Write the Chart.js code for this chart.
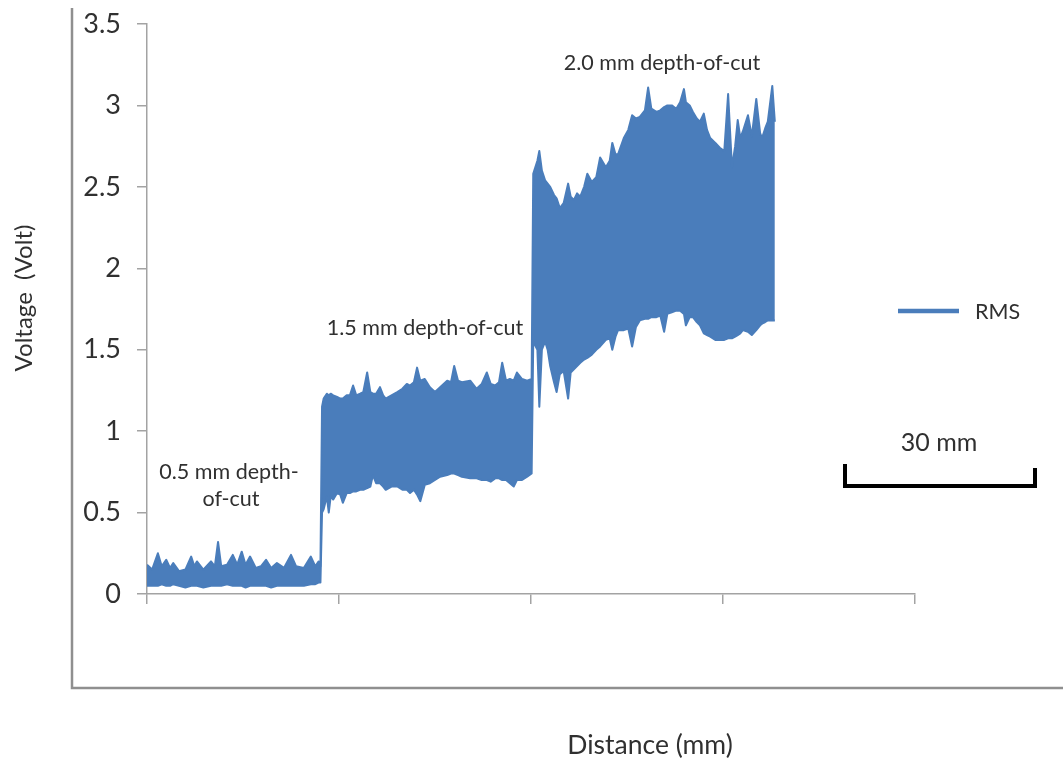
<!DOCTYPE html>
<html>
<head>
<meta charset="utf-8">
<script src="https://cdn.jsdelivr.net/npm/chart.js@4.4.1/dist/chart.umd.min.js"></script>
<style>
  html, body { margin: 0; padding: 0; background: #fff; }
  #wrap { position: relative; width: 1063px; height: 767px; }
</style>
</head>
<body>
<div id="wrap"><canvas id="rmsChart"></canvas></div>
<script>
// Axis ticks
const xTicks = [0, 30, 60, 90, 120];
const yTicks = [0, 0.5, 1, 1.5, 2, 2.5, 3, 3.5];

// RMS envelope along the cut: distance (mm), top and bottom of the signal band (V)
const distanceMm = [
  0, 0.8, 1.7, 2.3, 3.0, 3.6, 4.1, 5.0, 6.0, 6.9, 7.4, 7.8, 8.8, 10.0, 10.6, 11.1, 11.6, 12.5,
  13.4, 14.1, 14.8, 15.4, 16.1, 17.0, 17.8, 18.6, 19.4, 20.3, 21.4, 22.5, 23.3, 24.5, 25.6, 26.3,
  26.8, 27.1,
  27.35, 27.6, 28.1, 28.4, 28.7, 29.1, 29.7, 30.2, 30.6, 31.2, 31.7, 32.2, 32.7, 33.3, 33.8, 34.4,
  34.9, 35.3, 35.8, 36.4, 36.9, 37.3, 38.2, 39.1, 39.9, 40.6, 41.1, 41.7, 42.2, 42.7, 43.4, 44.2,
  45.0, 45.8, 46.9, 47.5, 48.0, 48.6, 49.2, 50.5, 51.5, 52.3, 53.1, 53.7, 54.4, 55.0, 55.5, 56.1,
  56.7, 57.3, 57.8, 58.6, 59.4, 60.1,
  60.35, 61.0, 61.3, 61.7, 62.2, 62.6, 63.0, 63.6, 64.0, 64.5, 65.1, 65.8, 66.2, 66.7, 67.2, 67.7,
  68.3, 68.8, 69.5, 70.2, 70.8, 71.7, 72.3, 72.7, 73.2, 73.6, 74.5, 75.2, 75.8, 76.4, 77.0, 77.8,
  78.3, 78.8, 79.6, 80.2, 80.8, 81.3, 82.0, 82.7, 83.3, 83.9, 84.2, 84.8, 85.3, 85.9, 86.4, 87.0,
  87.5, 88.0, 88.8, 89.5, 90.2, 90.8, 91.4, 91.9, 92.3, 92.7, 93.1, 93.9, 94.5, 95.2, 95.8, 96.1,
  96.6, 97.0, 97.7, 98.1
];
const rmsUpper = [
  0.18, 0.15, 0.25, 0.17, 0.21, 0.16, 0.19, 0.14, 0.15, 0.23, 0.17, 0.20, 0.15, 0.20, 0.17, 0.32, 0.17, 0.18,
  0.24, 0.18, 0.26, 0.18, 0.23, 0.16, 0.17, 0.21, 0.16, 0.19, 0.16, 0.24, 0.17, 0.16, 0.23, 0.17,
  0.20, 0.17,
  1.15, 1.20, 1.23, 1.22, 1.23, 1.22, 1.21, 1.20, 1.20, 1.22, 1.22, 1.28, 1.22, 1.23, 1.24, 1.36,
  1.24, 1.23, 1.23, 1.27, 1.22, 1.20, 1.22, 1.24, 1.26, 1.29, 1.28, 1.30, 1.39, 1.31, 1.32, 1.27,
  1.24, 1.27, 1.31, 1.30, 1.40, 1.31, 1.30, 1.31, 1.26, 1.29, 1.36, 1.29, 1.28, 1.30, 1.42, 1.31,
  1.32, 1.31, 1.36, 1.32, 1.31, 1.32,
  2.58, 2.66, 2.72, 2.60, 2.54, 2.52, 2.50, 2.45, 2.43, 2.37, 2.40, 2.52, 2.44, 2.42, 2.46, 2.44,
  2.50, 2.58, 2.53, 2.56, 2.68, 2.62, 2.66, 2.77, 2.70, 2.70, 2.80, 2.85, 2.94, 2.92, 2.93, 2.97,
  3.11, 2.98, 2.96, 2.97, 2.99, 3.00, 3.00, 2.98, 3.02, 3.10, 3.02, 3.00, 2.96, 2.92, 2.90, 2.95,
  2.85, 2.80, 2.77, 2.74, 2.72, 3.07, 2.62, 2.75, 2.91, 2.80, 2.84, 2.94, 2.81, 3.04, 2.83, 2.80,
  2.86, 2.90, 3.12, 2.90
];
const rmsLower = [
  0.05, 0.05, 0.05, 0.06, 0.05, 0.05, 0.06, 0.05, 0.04, 0.05, 0.05, 0.05, 0.04, 0.05, 0.05, 0.05, 0.05, 0.06,
  0.05, 0.05, 0.05, 0.04, 0.05, 0.05, 0.05, 0.05, 0.04, 0.05, 0.05, 0.05, 0.05, 0.05, 0.06, 0.06,
  0.07, 0.07,
  0.50, 0.52, 0.60, 0.50, 0.60, 0.58, 0.62, 0.61, 0.56, 0.62, 0.62, 0.63, 0.63, 0.64, 0.64, 0.65,
  0.66, 0.73, 0.68, 0.68, 0.66, 0.64, 0.66, 0.66, 0.64, 0.64, 0.62, 0.64, 0.61, 0.57, 0.67, 0.68,
  0.70, 0.72, 0.73, 0.74, 0.74, 0.73, 0.72, 0.71, 0.71, 0.70, 0.70, 0.69, 0.71, 0.71, 0.70, 0.70,
  0.68, 0.66, 0.70, 0.70, 0.72, 0.74,
  1.55, 1.50, 1.15, 1.50, 1.55, 1.50, 1.40, 1.30, 1.24, 1.35, 1.37, 1.20, 1.36, 1.38, 1.40, 1.42,
  1.44, 1.45, 1.47, 1.50, 1.52, 1.56, 1.57, 1.50, 1.58, 1.62, 1.62, 1.63, 1.52, 1.64, 1.68, 1.69,
  1.69, 1.70, 1.70, 1.71, 1.61, 1.72, 1.73, 1.74, 1.74, 1.72, 1.65, 1.70, 1.70, 1.67, 1.65, 1.60,
  1.59, 1.58, 1.56, 1.56, 1.56, 1.57, 1.57, 1.58, 1.59, 1.60, 1.62, 1.61, 1.59, 1.62, 1.65, 1.66,
  1.67, 1.68, 1.68, 1.68
];

const blue = '#4a7dbb';
const textColor = '#303030';
const axisColor = '#a3a3a3';
const font = 'Lato, "Open Sans", sans-serif';

// frame, titles, labels, legend and the 30 mm scale bar
const decorations = {
  id: 'decorations',
  beforeDraw(chart) {
    const ctx = chart.ctx;
    ctx.save();
    ctx.strokeStyle = '#8f8f8f';
    ctx.lineWidth = 2.5;
    ctx.beginPath();
    ctx.moveTo(72, 8);
    ctx.lineTo(72, 688);
    ctx.lineTo(1063, 688);
    ctx.stroke();
    ctx.restore();
  },
  afterDraw(chart) {
    const ctx = chart.ctx;
    const x = chart.scales.x;
    ctx.save();
    ctx.fillStyle = textColor;
    ctx.textAlign = 'center';
    ctx.textBaseline = 'middle';

    ctx.font = '26.5px ' + font;
    ctx.fillText('Distance (mm)', 650, 745);

    ctx.save();
    ctx.translate(24, 298);
    ctx.rotate(-Math.PI / 2);
    ctx.font = '24px ' + font;
    ctx.fillText('Voltage  (Volt)', 0, 0);
    ctx.restore();

    ctx.font = '21.5px ' + font;
    ctx.fillText('0.5 mm depth-', 229, 472);
    ctx.fillText('of-cut', 231, 499);
    ctx.fillText('1.5 mm depth-of-cut', 425, 328);
    ctx.fillText('2.0 mm depth-of-cut', 662, 63);

    // legend
    ctx.strokeStyle = blue;
    ctx.lineWidth = 4.5;
    ctx.beginPath();
    ctx.moveTo(898, 311);
    ctx.lineTo(959, 311);
    ctx.stroke();
    ctx.textAlign = 'left';
    ctx.font = '21.5px ' + font;
    ctx.fillText(chart.data.datasets[0].label, 975, 312);

    // scale bar, one 30 mm step of the x axis
    const barLen = x.getPixelForValue(xTicks[1]) - x.getPixelForValue(xTicks[0]);
    const bx = 845;
    ctx.textAlign = 'center';
    ctx.font = '25px ' + font;
    ctx.fillText('30 mm', bx + barLen / 2 - 2, 443);
    ctx.strokeStyle = '#000';
    ctx.lineWidth = 4;
    ctx.lineJoin = 'miter';
    ctx.beginPath();
    ctx.moveTo(bx, 464);
    ctx.lineTo(bx, 486);
    ctx.lineTo(bx + barLen - 2, 486);
    ctx.lineTo(bx + barLen - 2, 468);
    ctx.stroke();
    ctx.restore();
  }
};

const upperPoints = distanceMm.map((d, i) => ({ x: d, y: rmsUpper[i] }));
const lowerPoints = distanceMm.map((d, i) => ({ x: d, y: rmsLower[i] }));

const ctx = document.getElementById('rmsChart').getContext('2d');
new Chart(ctx, {
  type: 'line',
  data: {
    datasets: [{
      label: 'RMS',
      data: upperPoints,
      borderColor: blue,
      backgroundColor: blue,
      borderWidth: 2,
      borderJoinStyle: 'round',
      pointRadius: 0,
      tension: 0,
      fill: false
    }, {
      label: 'RMS low',
      data: lowerPoints,
      borderColor: blue,
      backgroundColor: blue,
      borderWidth: 2,
      borderJoinStyle: 'round',
      pointRadius: 0,
      tension: 0,
      fill: '-1'
    }]
  },
  options: {
    responsive: true,
    maintainAspectRatio: false,
    animation: false,
    layout: { padding: { top: 24, right: 148, bottom: 0, left: 0 } },
    plugins: {
      legend: { display: false },
      tooltip: { enabled: false }
    },
    scales: {
      x: {
        type: 'linear',
        min: 0,
        max: 120,
        afterBuildTicks: s => { s.ticks = xTicks.map(v => ({ value: v })); },
        afterFit: s => { s.height = 173; s.paddingLeft = 0; s.paddingRight = 0; },
        ticks: { display: false },
        grid: { drawOnChartArea: false, drawTicks: true, tickLength: 10, color: axisColor, lineWidth: 1.5 },
        border: { display: true, color: axisColor, width: 1.5 }
      },
      y: {
        min: 0,
        max: 3.5,
        afterBuildTicks: s => { s.ticks = yTicks.map(v => ({ value: v })); },
        afterFit: s => { s.width = 147; s.paddingTop = 0; s.paddingBottom = 0; },
        ticks: {
          color: textColor,
          font: { family: font, size: 27 },
          padding: 16,
          callback: v => String(v)
        },
        grid: { drawOnChartArea: false, drawTicks: true, tickLength: 10, color: axisColor, lineWidth: 1.5 },
        border: { display: true, color: axisColor, width: 1.5 }
      }
    }
  },
  plugins: [decorations]
});
</script>
</body>
</html>
